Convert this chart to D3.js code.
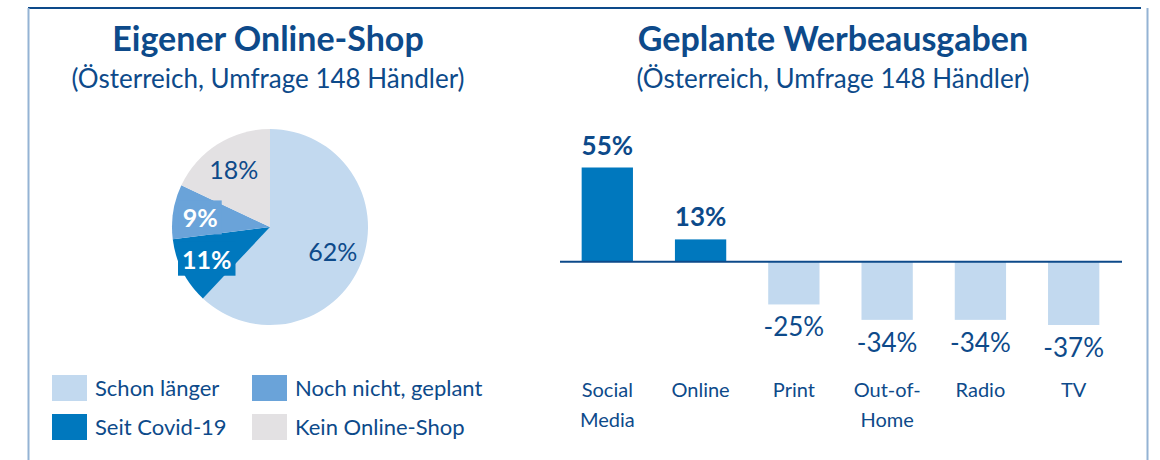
<!DOCTYPE html>
<html>
<head>
<meta charset="utf-8">
<script src="https://cdn.jsdelivr.net/npm/d3@7"></script>
<style>
  body { margin: 0; background: #fff; }
  svg text { font-family: Lato, "Open Sans", sans-serif; }
</style>
</head>
<body>
<div id="maindiv"></div>
<script>
// pie data
var pieLabels = ["Schon länger", "Seit Covid-19", "Noch nicht, geplant", "Kein Online-Shop"];
var pieValues = [62, 11, 9, 18];
var pieColors = ["#c2d9ef", "#0078be", "#6aa3d9", "#e3e1e3"];

// bar data
var barCategories = [["Social", "Media"], ["Online"], ["Print"], ["Out-of-", "Home"], ["Radio"], ["TV"]];
var barValues = [55, 13, -25, -34, -34, -37];

var width = 1160, height = 460;
var navy = "#0d4a8a";

var svg = d3.select("#maindiv").append("svg")
    .attr("width", width)
    .attr("height", height);

// frame
svg.append("line").attr("x1", 28).attr("x2", 1141).attr("y1", 8).attr("y2", 8)
    .attr("stroke", navy).attr("stroke-width", 2);
svg.append("line").attr("x1", 28.5).attr("x2", 28.5).attr("y1", 8).attr("y2", height)
    .attr("stroke", "#94b3d4").attr("stroke-width", 2);
svg.append("line").attr("x1", 1147.5).attr("x2", 1147.5).attr("y1", 8).attr("y2", height)
    .attr("stroke", "#94b3d4").attr("stroke-width", 2);

function titles(cx, t1) {
    svg.append("text").attr("x", cx).attr("y", 51).attr("text-anchor", "middle")
        .attr("font-size", 34).attr("font-weight", "bold").attr("fill", navy).text(t1);
    svg.append("text").attr("x", cx).attr("y", 88).attr("text-anchor", "middle")
        .attr("font-size", 26).attr("fill", navy).text("(Österreich, Umfrage 148 Händler)");
}
titles(268, "Eigener Online-Shop");
titles(833, "Geplante Werbeausgaben");

//---------pie-----------
var R = 98;
var pieG = svg.append("g").attr("transform", "translate(270,227)");
var pie_data = d3.pie().sort(null).value(d => d)(pieValues);
var segments = d3.arc().innerRadius(0).outerRadius(R);
var labelArc = d3.arc().innerRadius(R * 0.69).outerRadius(R * 0.69);

pieG.selectAll("path").data(pie_data).enter().append("path")
    .attr("d", segments)
    .attr("fill", (d, i) => pieColors[i]);

var boxed = [false, true, true, false];
pie_data.forEach(function (d, i) {
    var c = labelArc.centroid(d);
    if (boxed[i]) c = [c[0] - 3, c[1] + 2];
    var g = pieG.append("g");
    var t = g.append("text").attr("x", c[0]).attr("y", c[1])
        .attr("text-anchor", "middle").attr("dy", "0.36em")
        .attr("font-size", 25)
        .attr("font-weight", boxed[i] ? "bold" : "normal")
        .attr("fill", boxed[i] ? "#fff" : navy)
        .text(pieValues[i] + "%");
    if (boxed[i]) {
        var b = t.node().getBBox();
        g.insert("rect", "text")
            .attr("x", b.x - 4).attr("y", b.y - 2)
            .attr("width", b.width + 8).attr("height", b.height + 4)
            .attr("fill", pieColors[i]);
    }
});

// legend
var legOrder = [0, 2, 1, 3];
legOrder.forEach(function (k, j) {
    var col = j % 2, row = Math.floor(j / 2);
    var lx = 52 + col * 200, ly = 375 + row * 39;
    svg.append("rect").attr("x", lx).attr("y", ly).attr("width", 35).attr("height", 26)
        .attr("fill", pieColors[k]);
    svg.append("text").attr("x", lx + 43).attr("y", ly + 21)
        .attr("font-size", 22).attr("fill", navy).text(pieLabels[k]);
});

//---------bars-----------
var x = d3.scaleBand()
    .domain(d3.range(barValues.length))
    .range([563, 1118])
    .paddingInner(0.45).paddingOuter(0.2);

var y = d3.scaleLinear().domain([-37, 55]).range([325, 167.5]);

svg.append("g").selectAll("rect").data(barValues).enter().append("rect")
    .attr("x", (d, i) => x(i))
    .attr("y", d => y(Math.max(0, d)))
    .attr("width", x.bandwidth())
    .attr("height", d => Math.abs(y(d) - y(0)))
    .attr("fill", d => d > 0 ? "#0078be" : "#c2d9ef");

svg.append("line").attr("x1", 560).attr("x2", 1122).attr("y1", y(0)).attr("y2", y(0))
    .attr("stroke", navy).attr("stroke-width", 2);

svg.append("g").selectAll("text").data(barValues).enter().append("text")
    .attr("x", (d, i) => x(i) + x.bandwidth() / 2)
    .attr("y", d => d > 0 ? y(d) - 13 : y(d) + 32)
    .attr("text-anchor", "middle")
    .attr("font-size", 26)
    .attr("font-weight", d => d > 0 ? "bold" : "normal")
    .attr("fill", navy)
    .text(d => d + "%");

barCategories.forEach(function (lines, i) {
    var t = svg.append("text").attr("x", x(i) + x.bandwidth() / 2).attr("y", 397)
        .attr("text-anchor", "middle").attr("font-size", 20).attr("fill", navy);
    lines.forEach(function (s, k) {
        t.append("tspan").attr("x", x(i) + x.bandwidth() / 2).attr("dy", k ? 30 : 0).text(s);
    });
});
</script>
</body>
</html>
